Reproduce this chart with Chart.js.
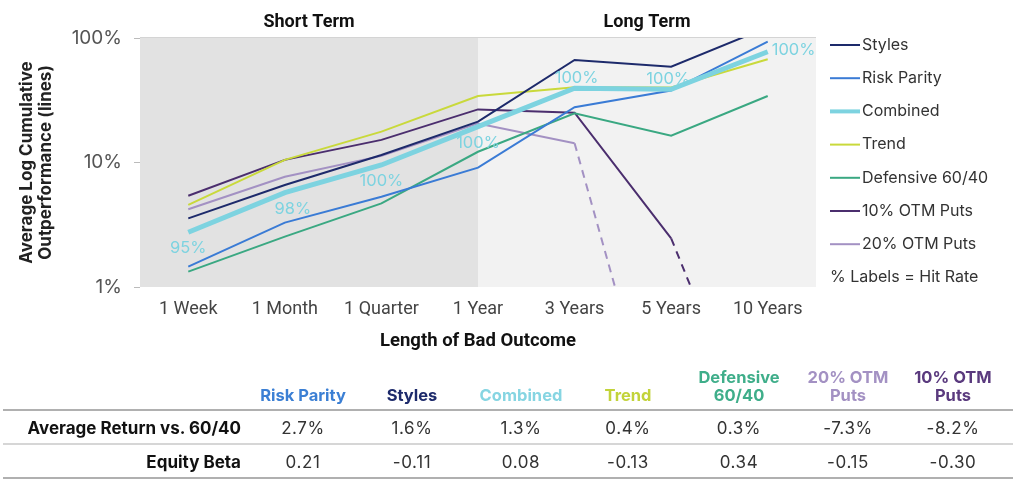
<!DOCTYPE html>
<html><head><meta charset="utf-8">
<script src="https://cdn.jsdelivr.net/npm/chart.js@4.4.0/dist/chart.umd.min.js"></script>
<style>
html,body{margin:0;padding:0;background:#fff;width:1017px;height:483px;overflow:hidden;font-family:Inter, "Noto Sans", sans-serif;}
#wrap{position:absolute;left:0;top:0;width:1017px;height:360px;}
#tbl{position:absolute;left:0;top:0;width:1017px;height:483px;}
.hd{position:absolute;transform:translateX(-50%);font-weight:700;font-size:16.5px;line-height:18px;text-align:center;white-space:nowrap;bottom:79px;}
.val{position:absolute;transform:translate(-50%,-50%);font-size:17px;letter-spacing:0.6px;color:#333;white-space:nowrap;}
.rl{position:absolute;right:776px;transform:translateY(-50%);font-size:17px;font-weight:700;color:#111;white-space:nowrap;}
.ln{position:absolute;left:3px;width:1010px;}
</style>
</head><body>
<div id="wrap"><canvas id="c"></canvas></div>
<div id="tbl"></div>
<script>
// ---- data ----
const categories = ['1 Week','1 Month','1 Quarter','1 Year','3 Years','5 Years','10 Years'];
const styles     = [3.56, 6.6, 11.5, 21.3, 66.6, 58.8, 122];
const riskParity = [1.46, 3.29, 5.31, 9.1, 27.8, 37.8, 93.4];
const combined   = [2.75, 5.72, 9.55, 19.4, 39.5, 38.7, 77.6];
const trend      = [4.56, 10.5, 17.7, 34.2, 40.2, 40.0, 67.4];
const defensive  = [1.33, 2.54, 4.7, 12.2, 24.8, 16.4, 34.2];
const otm10      = [5.41, 10.5, 15.2, 26.7, 25.1, 2.46, 0.03];
const otm20      = [4.21, 7.69, 11.3, 20.6, 14.3, 0.025, null];
const hitRate    = ['95%','98%','100%','100%','100%','100%','100%'];
const yTicks     = [1, 10, 100];
const seriesNames = ['Styles','Risk Parity','Combined','Trend','Defensive 60/40','10% OTM Puts','20% OTM Puts'];
const tableNames = ['Risk Parity','Styles','Combined','Trend','Defensive\n60/40','20% OTM\nPuts','10% OTM\nPuts'];
const avgReturn  = ['2.7%','1.6%','1.3%','0.4%','0.3%','-7.3%','-8.2%'];
const equityBeta = ['0.21','-0.11','0.08','-0.13','0.34','-0.15','-0.30'];
const rowLabels  = ['Average Return vs. 60/40','Equity Beta'];

// ---- styles ----
const colors = ['#1d2a6b','#3a7bd5','#7dd3e0','#c9d93b','#3aa882','#4b2e6e','#a391c3'];
const tableColors = ['#3b7fd4','#1d2a6b','#86d5e2','#c2d33a','#3fae8a','#a391c3','#5a3a7e'];
const values = [styles, riskParity, combined, trend, defensive, otm10, otm20];
const dashFrom = {5:5, 6:4};

const datasets = seriesNames.map((n,i)=>({
  label:n, data:values[i], borderColor:colors[i], backgroundColor:colors[i],
  borderWidth: i===2 ? 5 : 2, pointRadius:0, tension:0, fill:false,
  order: i===2 ? 0 : 1,
  segment: dashFrom[i]!==undefined ? {borderDash: ctx => ctx.p0DataIndex >= dashFrom[i] ? [8,6] : undefined} : undefined
}));

const bgPlugin = {
  id:'bg',
  beforeDraw(chart){
    const {ctx, chartArea:a, scales:{x}} = chart;
    const xs = x.getPixelForValue(3);
    ctx.save();
    ctx.fillStyle='#e2e2e2'; ctx.fillRect(a.left,a.top,xs-a.left,a.bottom-a.top);
    ctx.fillStyle='#f2f2f2'; ctx.fillRect(xs,a.top,a.right-xs,a.bottom-a.top);
    ctx.fillStyle='#d4d4d4'; ctx.fillRect(a.left,a.top-1,a.right-a.left,1);
    ctx.fillStyle='#111'; ctx.font='bold 18px Roboto'; ctx.textAlign='center'; ctx.textBaseline='middle';
    ctx.fillText('Short Term',(a.left+xs)/2,22);
    ctx.fillText('Long Term',(xs+a.right)/2,22);
    ctx.restore();
  }
};

const labelPlugin = {
  id:'hit',
  afterDatasetsDraw(chart){
    const {ctx} = chart;
    const meta = chart.getDatasetMeta(2);
    const place = ['below','below','below','below','above','above','right'];
    ctx.save();
    ctx.font='16.5px Inter'; ctx.fillStyle='#7dd3e0'; ctx.textBaseline='middle';
    meta.data.forEach((p,i)=>{
      let x=p.x, y=p.y;
      if(place[i]==='below'){ctx.textAlign='center'; y+=16; if(i===1) x+=8;}
      else if(place[i]==='above'){ctx.textAlign='center'; y-=10; x+= (i===4?2:-3);}
      else {ctx.textAlign='left'; x+=4; y-=2;}
      ctx.fillText(hitRate[i],x,y);
    });
    ctx.restore();
  }
};

const legendPlugin = {
  id:'leg',
  afterDraw(chart){
    const {ctx} = chart;
    ctx.save();
    ctx.font='16px Inter'; ctx.fillStyle='#333'; ctx.textBaseline='middle'; ctx.textAlign='left';
    chart.data.datasets.forEach((d,i)=>{
      const y = 45 + i*33.2;
      ctx.strokeStyle=d.borderColor; ctx.lineWidth = i===2?4:2;
      ctx.beginPath(); ctx.moveTo(830,y); ctx.lineTo(860,y); ctx.stroke();
      ctx.fillText(d.label, 862, y);
    });
    ctx.fillText('% Labels = Hit Rate', 830, 45 + 7*33.2);
    ctx.restore();
  }
};

new Chart(document.getElementById('c'),{
  type:'line',
  data:{labels:categories, datasets},
  options:{
    responsive:true, maintainAspectRatio:false, animation:false,
    layout:{padding:{left:0,right:201,top:38,bottom:0}},
    plugins:{legend:{display:false}, tooltip:{enabled:false}},
    scales:{
      x:{
        offset:true,
        grid:{display:false, drawTicks:false},
        border:{display:false},
        ticks:{color:'#444', font:{family:'Roboto', size:18}, padding:12, maxRotation:0},
        title:{display:true, text:'Length of Bad Outcome', color:'#111', font:{family:'Roboto', size:18.5, weight:'bold'}, padding:{top:0,bottom:8}},
        afterFit(s){ s.height = 73; }
      },
      y:{
        type:'logarithmic', min:1, max:100,
        grid:{drawOnChartArea:false, drawTicks:true, tickLength:6, color:'#bbb'},
        border:{display:false},
        afterBuildTicks(s){ s.ticks = yTicks.map(v=>({value:v})); },
        ticks:{color:'#555', font:{family:'Inter', size:19}, padding:12, callback:v=>v+'%'},
        title:{display:true, text:['Average Log Cumulative','Outperformance (lines)'], color:'#222', font:{family:'Inter', size:17, weight:'bold', lineHeight:1.08}, padding:{top:18,bottom:0}},
        afterFit(s){ s.width = 140; }
      }
    }
  },
  plugins:[bgPlugin, labelPlugin, legendPlugin]
});

// ---- table ----
const colX = [303, 412, 521, 628, 739, 848, 953];
const tbl = document.getElementById('tbl');
function add(cls, html, style){ const d=document.createElement('div'); d.className=cls; d.innerHTML=html; Object.assign(d.style, style); tbl.appendChild(d); }
tableNames.forEach((n,i)=> add('hd', n.replace('\n','<br>'), {left:colX[i]+'px', color:tableColors[i]}));
add('ln','',{top:409+'px',height:'2px',background:'#b0b0b0'});
add('ln','',{top:443+'px',height:'2px',background:'#d6d6d6'});
add('ln','',{top:477+'px',height:'2px',background:'#b0b0b0'});
add('rl', rowLabels[0], {top:'428px'});
add('rl', rowLabels[1], {top:'462px'});
avgReturn.forEach((v,i)=> add('val', v, {left:colX[i]+'px', top:'428px'}));
equityBeta.forEach((v,i)=> add('val', v, {left:colX[i]+'px', top:'462px'}));
</script>
</body></html>
